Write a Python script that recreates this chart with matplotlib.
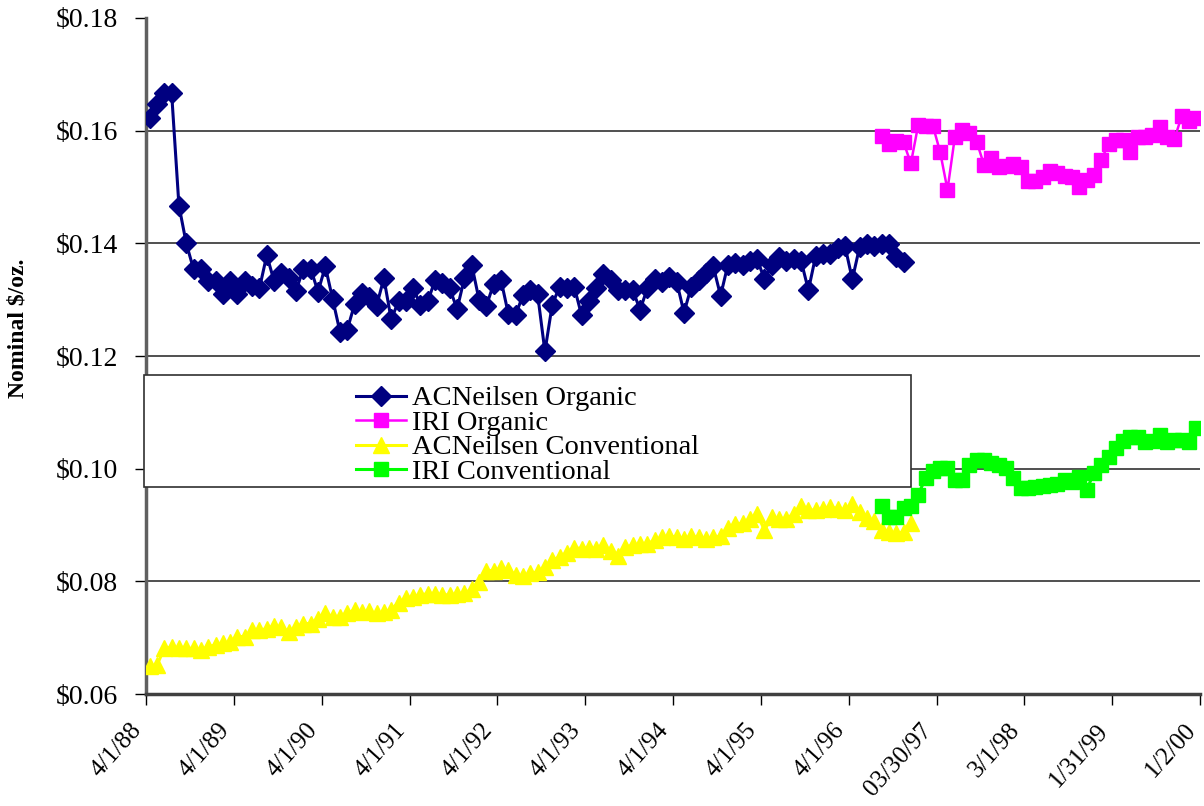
import numpy as np
import matplotlib
matplotlib.use("Agg")
import matplotlib.pyplot as plt
from matplotlib.patches import Rectangle

plt.rcParams['font.family'] = ['Liberation Serif', 'DejaVu Serif']

# ---- data ----
tick_labels = ['4/1/88', '4/1/89', '4/1/90', '4/1/91', '4/1/92', '4/1/93', '4/1/94',
               '4/1/95', '4/1/96', '03/30/97', '3/1/98', '1/31/99', '1/2/00']
n_periods = 144
periods_per_tick = 12
acn_start = 0
iri_start = 100

acn_organic = [
    0.1623, 0.1647, 0.1667, 0.1667, 0.1467, 0.1400, 0.1354, 0.1354, 0.1333, 0.1333,
    0.1310, 0.1333, 0.1310, 0.1333, 0.1324, 0.1320, 0.1379, 0.1333, 0.1347, 0.1338,
    0.1316, 0.1355, 0.1355, 0.1314, 0.1359, 0.1301, 0.1243, 0.1247, 0.1292, 0.1311,
    0.1305, 0.1289, 0.1338, 0.1265, 0.1297, 0.1298, 0.1320, 0.1291, 0.1297, 0.1335,
    0.1329, 0.1320, 0.1283, 0.1338, 0.1362, 0.1300, 0.1289, 0.1328, 0.1335, 0.1275,
    0.1273, 0.1308, 0.1317, 0.1310, 0.1208, 0.1291, 0.1323, 0.1320, 0.1323, 0.1273,
    0.1297, 0.1320, 0.1346, 0.1335, 0.1317, 0.1317, 0.1317, 0.1282, 0.1320, 0.1336,
    0.1332, 0.1341, 0.1332, 0.1277, 0.1323, 0.1335, 0.1348, 0.1359, 0.1307, 0.1362,
    0.1365, 0.1362, 0.1368, 0.1372, 0.1336, 0.1362, 0.1375, 0.1369, 0.1372, 0.1369,
    0.1317, 0.1378, 0.1381, 0.1381, 0.1391, 0.1395, 0.1336, 0.1394, 0.1399, 0.1395,
    0.1399, 0.1399, 0.1375, 0.1366]

iri_organic = [
    0.1591, 0.1576, 0.1582, 0.1579, 0.1542, 0.1610, 0.1609, 0.1609, 0.1562, 0.1495,
    0.1588, 0.1601, 0.1595, 0.1580, 0.1539, 0.1552, 0.1536, 0.1538, 0.1540, 0.1536,
    0.1511, 0.1510, 0.1518, 0.1529, 0.1524, 0.1520, 0.1517, 0.1500, 0.1513, 0.1521,
    0.1548, 0.1576, 0.1583, 0.1584, 0.1563, 0.1589, 0.1588, 0.1592, 0.1606, 0.1588,
    0.1585, 0.1626, 0.1618, 0.1622]

acn_conventional = [
    0.0650, 0.0651, 0.0681, 0.0683, 0.0681, 0.0681, 0.0681, 0.0678, 0.0684, 0.0687,
    0.0690, 0.0693, 0.0702, 0.0702, 0.0713, 0.0713, 0.0716, 0.0721, 0.0719, 0.0710,
    0.0719, 0.0725, 0.0725, 0.0734, 0.0744, 0.0737, 0.0737, 0.0744, 0.0749, 0.0746,
    0.0747, 0.0743, 0.0746, 0.0750, 0.0762, 0.0770, 0.0773, 0.0776, 0.0778, 0.0778,
    0.0776, 0.0776, 0.0778, 0.0779, 0.0786, 0.0799, 0.0819, 0.0819, 0.0823, 0.0821,
    0.0811, 0.0809, 0.0814, 0.0817, 0.0826, 0.0838, 0.0843, 0.0851, 0.0860, 0.0858,
    0.0860, 0.0858, 0.0864, 0.0854, 0.0845, 0.0861, 0.0864, 0.0866, 0.0867, 0.0873,
    0.0878, 0.0880, 0.0879, 0.0876, 0.0880, 0.0878, 0.0876, 0.0878, 0.0880, 0.0894,
    0.0901, 0.0903, 0.0911, 0.0919, 0.0891, 0.0914, 0.0911, 0.0911, 0.0920, 0.0933,
    0.0926, 0.0927, 0.0929, 0.0932, 0.0929, 0.0927, 0.0937, 0.0923, 0.0912, 0.0907,
    0.0891, 0.0888, 0.0885, 0.0888, 0.0903]

iri_conventional = [
    0.0933, 0.0915, 0.0914, 0.0930, 0.0933, 0.0954, 0.0983, 0.0995, 0.1001, 0.1001,
    0.0980, 0.0980, 0.1007, 0.1016, 0.1016, 0.1010, 0.1007, 0.1001, 0.0983, 0.0965,
    0.0965, 0.0968, 0.0969, 0.0971, 0.0973, 0.0979, 0.0977, 0.0986, 0.0962, 0.0992,
    0.1007, 0.1021, 0.1036, 0.1050, 0.1056, 0.1057, 0.1048, 0.1050, 0.1060, 0.1048,
    0.1051, 0.1051, 0.1048, 0.1072]

y_ticks = [0.06, 0.08, 0.10, 0.12, 0.14, 0.16, 0.18]

# ---- figure ----
W, H = 1204, 806
fig = plt.figure(figsize=(W / 100, H / 100), dpi=100)
ax = fig.add_axes([146 / W, 1 - 694 / H, (1200 - 146) / W, (694 - 18) / H])

def xs(start, vals):
    return np.arange(start, start + len(vals))

ax.plot(xs(acn_start, acn_organic), acn_organic, color='#000080', lw=2.2,
        marker='D', ms=10, mfc='#000080', mec='#000080', label='ACNeilsen Organic', zorder=3)
ax.plot(xs(iri_start, iri_organic), iri_organic, color='#FF00FF', lw=1.8,
        marker='s', ms=10.5, mfc='#FF00FF', mec='#FF00FF', label='IRI Organic', zorder=3)
ax.plot(xs(acn_start, acn_conventional), acn_conventional, color='#FFFF00', lw=2.2,
        marker='^', ms=11.5, mfc='#FFFF00', mec='#FFFF00', label='ACNeilsen Conventional', zorder=3)
ax.plot(xs(iri_start, iri_conventional), iri_conventional, color='#00FF00', lw=2.2,
        marker='s', ms=10.5, mfc='#00FF00', mec='#00FF00', label='IRI Conventional', zorder=3)

ax.set_xlim(-0.5, n_periods - 0.5)
ax.set_ylim(0.06, 0.18)

tick_pos = [-0.5 + periods_per_tick * i for i in range(len(tick_labels))]
ax.set_xticks(tick_pos)
ax.set_xticklabels(tick_labels, rotation=48, ha='right', va='bottom',
                   rotation_mode='anchor', fontsize=18)
ax.set_yticks(y_ticks)
ax.set_yticklabels(['$%.2f' % v for v in y_ticks], fontsize=20)
ax.tick_params(axis='y', direction='out', length=8, width=1, pad=12, color='black')
ax.tick_params(axis='x', direction='out', length=8, width=1, pad=21, color='black')

ax.yaxis.grid(True, color='#202020', lw=1.1)
gl = ax.get_ygridlines()
gl[-1].set_visible(False)
gl[0].set_visible(False)
ax.set_axisbelow(True)

for s in ['top', 'right']:
    ax.spines[s].set_visible(False)
ax.spines['left'].set_color('#606060')
ax.spines['left'].set_linewidth(2.5)
ax.spines['bottom'].set_color('#404040')
ax.spines['bottom'].set_linewidth(2.5)

fig.text(18 / W, 1 - 328 / H, 'Nominal $/oz.', rotation=90, fontsize=17,
         fontweight='bold', ha='center', va='center')

# legend box
bx0, bx1 = (144 - 146) / 1054, (911 - 146) / 1054
by0, by1 = (694 - 487) / 676, (694 - 375) / 676
rect = Rectangle((bx0, by0), bx1 - bx0, by1 - by0, transform=ax.transAxes,
                 facecolor='white', edgecolor='#303030', lw=1.2, zorder=5, clip_on=False)
ax.add_patch(rect)
leg = ax.legend(loc='center', bbox_to_anchor=((bx0 + bx1) / 2, (694 - 435.5) / 676),
                frameon=False, fontsize=20.5, labelspacing=-0.02, handlelength=1.75,
                handletextpad=0.2, borderpad=0, handleheight=0.6)
leg.set_zorder(6)

fig.savefig('out.png', dpi=100)
